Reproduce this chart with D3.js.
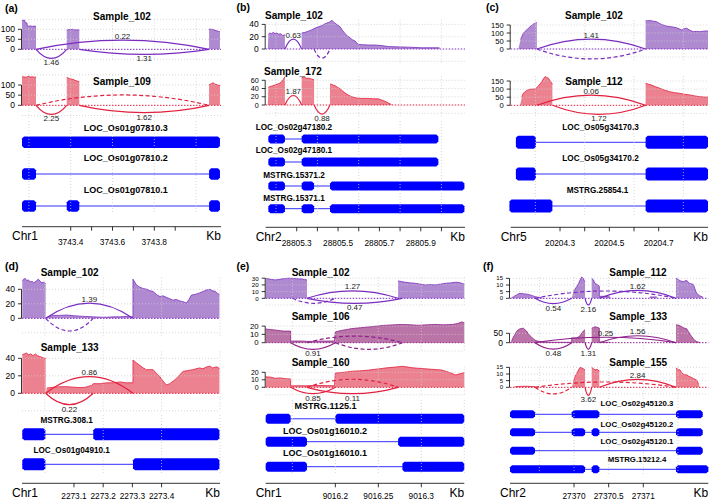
<!DOCTYPE html>
<html><head><meta charset="utf-8">
<script src="https://cdn.jsdelivr.net/npm/d3@7"></script>
<style>body{margin:0;background:#fff}svg{display:block}text{font-family:"Liberation Sans",Arial,Helvetica,sans-serif}</style>
</head><body><svg id="chart" width="709" height="502"></svg>
<script>
// ================= DATA =================
const panelTags = ["(a)","(b)","(c)","(d)","(e)","(f)"];
const chromosomes = ["Chr1","Chr2","Chr5","Chr1","Chr1","Chr2"];
const regions = [[3743.167,3744.119],[28805.15,28806.114],[20204.1,20204.9],[2272.922,2273.6],[9016.119,9016.35],[27369.076,27371.938]];
const xTicks_a = [3743.4,3743.5,3743.6,3743.7,3743.8,3743.9];
const xLabels_a = ["3743.4","","3743.6","","3743.8",""];
const xTicks_b = [28805.3,28805.4,28805.5,28805.6,28805.7,28805.8,28805.9,28806.0];
const xLabels_b = ["28805.3","","28805.5","","28805.7","","28805.9",""];
const xTicks_c = [20204.3,20204.4,20204.5,20204.6,20204.7];
const xLabels_c = ["20204.3","","20204.5","","20204.7"];
const xTicks_d = [2273.1,2273.2,2273.3,2273.4];
const xLabels_d = ["2273.1","2273.2","2273.3","2273.4"];
const xTicks_e = [9016.2,9016.25,9016.3];
const xLabels_e = ["9016.2","9016.25","9016.3"];
const xTicks_f = [27370,27370.5,27371];
const xLabels_f = ["27370","27370.5","27371"];
const xGrid_a = [3743.2,3743.4,3743.6,3743.8,3744.0];
const xGrid_b = [28805.2,28805.4,28805.6,28805.8,28806.0];
const xGrid_c = [20204.2,20204.4,20204.6,20204.8];
const xGrid_d = [2273.0,2273.2,2273.4,2273.6];
const xGrid_e = [9016.15,9016.2,9016.25,9016.3,9016.35];
const xGrid_f = [27369.5,27370,27370.5,27371,27371.5];

const samples_a = ["Sample_102","Sample_109"];
const samples_b = ["Sample_102","Sample_172"];
const samples_c = ["Sample_102","Sample_112"];
const samples_d = ["Sample_102","Sample_133"];
const samples_e = ["Sample_102","Sample_106","Sample_160"];
const samples_f = ["Sample_112","Sample_133","Sample_155"];

const yt_a_102 = [0,50,100], yt_a_109 = [0,50,100];
const yt_b_102 = [0,20,40], yt_b_172 = [0,20,40,60];
const yt_c_102 = [0,50,100,150], yt_c_112 = [0,50,100,150];
const yt_d_102 = [0,20,40], yt_d_133 = [0,20,40];
const yt_e_102 = [0,10,20,30], yt_e_106 = [0,10,20], yt_e_160 = [0,10,20];
const yt_f_112 = [0,5,10,15], yt_f_133 = [0,50], yt_f_155 = [0,5,10,15];

// coverage: [position kb, read depth]
const cov_a_102 = [[3743.167,146],[3743.172,144],[3743.177,146],[3743.180,145],[3743.181,134],[3743.186,133],[3743.191,131],[3743.192,117],[3743.200,116],[3743.208,117],[3743.216,114],[3743.224,116],[3743.234,115],[3743.234,0],[3743.381,0],[3743.381,97],[3743.390,99],[3743.400,98],[3743.410,100],[3743.420,97],[3743.430,98],[3743.441,96],[3743.441,0],[3744.062,0],[3744.062,100],[3744.070,101],[3744.080,99],[3744.090,95],[3744.100,92],[3744.108,89],[3744.114,88],[3744.114,0]];
const cov_a_109 = [[3743.167,139],[3743.175,141],[3743.183,138],[3743.191,140],[3743.200,142],[3743.208,139],[3743.217,141],[3743.225,138],[3743.234,140],[3743.234,0],[3743.381,0],[3743.381,136],[3743.388,135],[3743.396,131],[3743.405,129],[3743.415,126],[3743.425,121],[3743.433,119],[3743.441,116],[3743.441,0],[3744.062,0],[3744.062,101],[3744.072,106],[3744.081,111],[3744.090,104],[3744.100,101],[3744.114,97],[3744.114,0]];
const cov_b_102 = [[28805.150,0],[28805.160,0],[28805.163,24],[28805.170,26],[28805.178,25],[28805.186,27],[28805.195,25],[28805.204,26],[28805.213,24],[28805.222,25],[28805.232,22],[28805.243,23],[28805.243,0],[28805.324,0],[28805.324,26],[28805.340,27],[28805.356,29],[28805.372,31],[28805.389,34],[28805.405,36],[28805.421,38],[28805.437,41],[28805.453,43],[28805.461,44],[28805.469,47],[28805.477,44],[28805.485,42],[28805.497,39],[28805.510,36],[28805.522,30],[28805.534,25],[28805.546,21],[28805.558,18],[28805.570,15],[28805.582,13],[28805.590,10],[28805.598,7.5],[28805.620,7],[28805.646,6.5],[28805.680,6.5],[28805.711,5.5],[28805.743,4],[28805.780,3.5],[28805.840,3],[28805.905,2],[28805.960,2],[28805.990,2],[28805.993,0],[28806.114,0]];
const cov_b_172 = [[28805.150,0],[28805.160,0],[28805.163,43],[28805.172,45],[28805.181,46],[28805.190,48],[28805.199,49],[28805.208,51],[28805.217,53],[28805.226,56],[28805.235,62],[28805.243,69],[28805.243,0],[28805.324,0],[28805.324,67],[28805.336,67],[28805.348,65],[28805.360,65],[28805.372,63],[28805.384,61],[28805.384,0],[28805.461,0],[28805.461,51],[28805.470,50],[28805.478,48],[28805.485,47],[28805.497,43],[28805.510,39],[28805.522,34],[28805.534,29],[28805.550,24],[28805.566,20],[28805.590,17],[28805.614,16],[28805.646,16],[28805.670,15],[28805.695,15],[28805.711,12],[28805.727,9],[28805.743,5],[28805.755,2],[28805.767,0],[28806.114,0]];
const cov_c_102 = [[20204.100,0],[20204.131,0],[20204.140,60],[20204.151,98],[20204.158,110],[20204.165,119],[20204.172,130],[20204.179,140],[20204.186,148],[20204.192,156],[20204.198,160],[20204.203,164],[20204.206,166],[20204.206,0],[20204.647,0],[20204.647,177],[20204.655,176],[20204.664,178],[20204.678,174],[20204.691,171],[20204.705,158],[20204.718,150],[20204.732,143],[20204.745,140],[20204.758,137],[20204.772,133],[20204.783,126],[20204.793,119],[20204.803,127],[20204.813,130],[20204.826,118],[20204.840,108],[20204.853,110],[20204.867,108],[20204.880,111],[20204.894,113],[20204.900,112]];
const cov_c_112 = [[20204.100,0],[20204.138,0],[20204.145,50],[20204.151,74],[20204.165,92],[20204.179,99],[20204.190,100],[20204.199,101],[20204.206,110],[20204.212,119],[20204.219,132],[20204.226,146],[20204.233,165],[20204.239,177],[20204.246,172],[20204.253,167],[20204.260,150],[20204.267,136],[20204.269,130],[20204.269,0],[20204.647,0],[20204.647,136],[20204.659,130],[20204.671,125],[20204.688,114],[20204.705,105],[20204.725,93],[20204.745,84],[20204.765,78],[20204.785,74],[20204.805,68],[20204.826,64],[20204.846,58],[20204.867,53],[20204.885,51],[20204.900,50]];
const cov_d_102 = [[2272.923,52],[2272.928,54],[2272.933,55],[2272.938,52],[2272.944,53],[2272.950,50],[2272.956,51],[2272.962,49],[2272.967,50],[2272.972,52],[2272.978,54],[2272.984,51],[2272.990,49],[2272.996,50],[2273.001,48],[2273.003,48],[2273.003,0],[2273.010,2],[2273.029,4],[2273.050,4],[2273.075,4.5],[2273.100,3.5],[2273.120,3],[2273.140,2.5],[2273.166,2],[2273.190,1.5],[2273.212,1.5],[2273.235,2],[2273.257,2],[2273.280,2.5],[2273.297,2],[2273.302,2],[2273.302,54],[2273.308,50],[2273.314,46],[2273.325,43],[2273.337,41],[2273.350,40],[2273.360,38],[2273.371,37],[2273.382,33],[2273.394,30],[2273.405,31],[2273.416,29],[2273.428,27],[2273.439,25],[2273.450,26],[2273.462,24],[2273.473,23],[2273.485,21],[2273.494,26],[2273.502,32],[2273.515,33],[2273.530,35],[2273.542,37],[2273.553,39],[2273.565,40],[2273.575,38],[2273.585,37],[2273.592,34],[2273.598,33]];
const cov_d_133 = [[2272.923,44],[2272.930,45],[2272.937,46],[2272.945,44],[2272.952,45],[2272.960,43],[2272.968,45],[2272.975,43],[2272.983,42],[2272.991,41],[2273.000,40],[2273.003,40],[2273.003,0],[2273.007,6],[2273.030,7],[2273.050,7.5],[2273.075,7.6],[2273.100,7],[2273.120,6.5],[2273.140,7],[2273.160,9],[2273.166,11],[2273.190,11],[2273.212,12],[2273.235,12],[2273.257,13],[2273.280,12],[2273.302,12],[2273.302,38],[2273.313,35],[2273.325,32],[2273.337,29],[2273.348,27],[2273.360,27],[2273.371,27],[2273.382,23],[2273.394,19],[2273.405,14],[2273.416,9.5],[2273.428,11],[2273.440,14],[2273.451,17],[2273.462,21],[2273.473,25],[2273.490,26],[2273.507,27],[2273.518,28],[2273.530,29],[2273.542,28],[2273.553,30],[2273.565,31],[2273.575,29],[2273.585,30],[2273.592,30],[2273.598,28]];
const cov_e_102 = [[9016.119,30],[9016.122,29],[9016.126,28],[9016.130,27.5],[9016.134,28],[9016.138,29],[9016.142,29.5],[9016.146,30],[9016.150,29.5],[9016.153,29.5],[9016.157,29],[9016.161,29],[9016.164,28],[9016.167,27.5],[9016.167,0],[9016.273,0],[9016.273,26],[9016.277,25],[9016.281,24],[9016.287,23],[9016.293,22.4],[9016.299,21],[9016.305,20],[9016.310,20.5],[9016.316,20],[9016.322,21],[9016.328,22.4],[9016.334,23],[9016.340,24],[9016.344,23.5],[9016.347,22.4],[9016.350,21]];
const cov_e_106 = [[9016.119,16.5],[9016.123,16],[9016.128,15.5],[9016.132,15],[9016.136,14.5],[9016.140,14],[9016.144,14],[9016.148,14],[9016.148,2],[9016.160,2],[9016.170,1.5],[9016.185,2],[9016.199,2],[9016.200,13],[9016.204,14],[9016.208,15],[9016.214,16],[9016.219,17],[9016.229,18],[9016.239,19],[9016.248,20],[9016.258,21],[9016.268,21.5],[9016.278,22],[9016.288,21.5],[9016.297,21],[9016.306,21.5],[9016.316,22],[9016.326,21.5],[9016.336,22],[9016.342,23],[9016.347,25],[9016.350,24]];
const cov_e_160 = [[9016.119,14],[9016.125,13.5],[9016.130,12],[9016.136,12.5],[9016.142,11.5],[9016.148,11],[9016.148,2],[9016.165,2],[9016.180,2.5],[9016.199,2],[9016.200,19],[9016.210,20],[9016.220,21.5],[9016.230,22],[9016.239,23],[9016.250,24.5],[9016.260,26],[9016.270,27],[9016.278,28],[9016.290,26],[9016.301,25],[9016.312,24],[9016.324,23],[9016.332,20],[9016.340,16.5],[9016.345,18],[9016.350,19.5]];
const cov_f_112 = [[27369.076,0],[27369.100,0.5],[27369.124,1],[27369.150,2],[27369.173,2.5],[27369.200,3.5],[27369.221,3.75],[27369.260,3.5],[27369.293,3.2],[27369.330,3],[27369.365,2.5],[27369.400,2],[27369.437,1.25],[27369.480,0.8],[27369.534,0.5],[27369.560,0],[27369.967,0],[27369.990,5],[27370.015,7],[27370.039,8.75],[27370.065,11],[27370.087,13.75],[27370.111,16],[27370.134,15],[27370.150,13],[27370.159,12.5],[27370.159,0],[27370.255,0],[27370.255,15],[27370.278,14],[27370.303,11],[27370.330,10.5],[27370.351,10],[27370.365,9],[27370.365,1.5],[27370.450,1.5],[27370.519,1],[27370.540,0],[27371.080,0],[27371.097,1],[27371.193,1],[27371.210,0],[27371.472,0],[27371.472,15],[27371.505,14],[27371.540,13],[27371.577,12.5],[27371.626,13.5],[27371.650,12],[27371.674,11],[27371.722,10.5],[27371.745,7],[27371.771,3.75],[27371.810,2],[27371.857,1],[27371.870,0],[27371.938,0]];
const cov_f_133 = [[27369.076,0],[27369.100,10],[27369.124,29],[27369.150,45],[27369.173,61],[27369.200,70],[27369.221,74],[27369.245,76],[27369.268,77],[27369.290,70],[27369.317,61],[27369.340,48],[27369.365,37],[27369.390,28],[27369.413,21],[27369.437,13],[27369.480,8],[27369.534,5],[27369.600,3],[27369.750,2],[27369.900,2],[27369.967,2],[27369.967,26],[27370.000,25],[27370.039,26],[27370.065,31],[27370.087,37],[27370.110,50],[27370.135,62],[27370.159,69],[27370.159,0],[27370.255,0],[27370.255,77],[27370.280,81],[27370.303,85],[27370.330,82],[27370.351,80],[27370.365,78],[27370.365,3],[27370.450,2],[27370.519,2],[27370.600,0],[27371.472,0],[27371.472,96],[27371.500,93],[27371.530,90],[27371.555,85],[27371.577,80],[27371.600,77],[27371.626,74],[27371.650,60],[27371.674,45],[27371.700,32],[27371.722,21],[27371.745,12],[27371.771,5],[27371.818,1],[27371.850,0],[27371.938,0]];
const cov_f_155 = [[27369.076,0],[27369.150,0.5],[27369.300,0.8],[27369.437,0.5],[27369.500,0],[27369.967,0],[27369.990,4],[27370.015,8],[27370.039,10.5],[27370.065,13],[27370.087,15],[27370.110,14.5],[27370.134,14],[27370.159,13],[27370.159,0],[27370.255,0],[27370.255,15],[27370.280,14],[27370.303,13],[27370.330,13.5],[27370.351,13],[27370.365,12],[27370.365,0],[27371.472,0],[27371.472,14.5],[27371.500,13.5],[27371.530,13],[27371.555,11],[27371.577,10],[27371.600,9.5],[27371.626,9.3],[27371.650,8.5],[27371.674,8],[27371.700,7.2],[27371.722,6.7],[27371.745,6],[27371.771,5.5],[27371.800,2],[27371.818,0],[27371.938,0]];

// junctions: [start kb, end kb, arc extreme (depth units, + above / - below), label, dashed]
const jn_a_102 = [[3743.234,3743.381,-45,"1.46",0],[3743.441,3744.062,-25,"1.31",0],[3743.234,3744.062,46,"0.22",0]];
const jn_a_109 = [[3743.234,3743.381,-45,"2.25",0],[3743.441,3744.062,-36,"1.62",0],[3743.234,3744.062,51,"",1]];
const jn_b_102 = [[28805.243,28805.324,16,"0.63",0],[28805.384,28805.461,-15,"",1]];
const jn_b_172 = [[28805.243,28805.324,23,"1.87",0],[28805.384,28805.461,-22,"0.88",0]];
const jn_c_102 = [[20204.206,20204.647,62,"1.41",0],[20204.206,20204.647,-62,"",1]];
const jn_c_112 = [[20204.206,20204.647,63,"0.06",0],[20204.269,20204.647,-56,"1.72",0]];
const jn_d_102 = [[2273.003,2273.302,21,"1.39",0],[2273.003,2273.166,-17.5,"",1]];
const jn_d_133 = [[2273.003,2273.302,19,"0.86",0],[2273.003,2273.166,-13,"0.22",0]];
const jn_e_102 = [[9016.167,9016.273,11,"1.27",0],[9016.167,9016.278,-7.5,"0.47",0],[9016.150,9016.200,-7.5,"",1]];
const jn_e_106 = [[9016.148,9016.200,-8,"0.91",0],[9016.167,9016.278,8,"",1],[9016.200,9016.278,-8,"",1]];
const jn_e_160 = [[9016.148,9016.200,-8.5,"0.85",0],[9016.167,9016.273,-8.5,"0.11",0],[9016.167,9016.273,10.7,"",1]];
const jn_f_112 = [[27369.437,27369.967,-4,"0.54",0],[27370.159,27370.255,-5,"2.16",0],[27370.365,27371.472,6,"1.62",0],[27369.437,27371.472,5.5,"",1]];
const jn_f_133 = [[27369.437,27369.967,-34,"0.48",0],[27370.159,27370.255,-35,"1.31",0],[27369.437,27371.472,29,"0.25",0],[27370.365,27371.472,37,"1.56",0]];
const jn_f_155 = [[27369.437,27369.967,-5,"",1],[27370.159,27370.255,-6,"3.62",0],[27370.365,27371.472,6,"2.84",0],[27369.437,27371.472,4,"",1]];

// transcripts: [name, exons [[start,end],...]]
const tx_a = [["LOC_Os01g07810.3",[[3743.167,3744.114]]],["LOC_Os01g07810.2",[[3743.167,3743.234],[3744.062,3744.114]]],["LOC_Os01g07810.1",[[3743.167,3743.234],[3743.381,3743.441],[3744.062,3744.114]]]];
const tx_b = [["LOC_Os02g47180.2",[[28805.163,28805.243],[28805.324,28805.985]]],["LOC_Os02g47180.1",[[28805.163,28805.243],[28805.324,28805.985]]],["MSTRG.15371.2",[[28805.163,28805.243],[28805.324,28805.384],[28805.461,28806.111]]],["MSTRG.15371.1",[[28805.163,28805.243],[28805.324,28805.384],[28805.461,28806.111]]]];
const tx_c = [["LOC_Os05g34170.3",[[20204.121,20204.202],[20204.647,20204.9]]],["LOC_Os05g34170.2",[[20204.121,20204.202],[20204.647,20204.9]]],["MSTRG.25854.1",[[20204.095,20204.269],[20204.647,20204.9]]]];
const tx_d = [["MSTRG.308.1",[[2272.923,2273.002],[2273.166,2273.598]]],["LOC_Os01g04910.1",[[2272.923,2273.002],[2273.302,2273.598]]]];
const tx_e = [["MSTRG.1125.1",[[9016.119,9016.148],[9016.2,9016.35]]],["LOC_Os01g16010.2",[[9016.119,9016.167],[9016.273,9016.35]]],["LOC_Os01g16010.1",[[9016.119,9016.167],[9016.278,9016.35]]]];
const tx_f = [["LOC_Os02g45120.3",[[27369.076,27369.437],[27369.967,27370.365],[27371.472,27371.857]]],["LOC_Os02g45120.2",[[27369.076,27369.437],[27369.967,27370.159],[27370.255,27370.365],[27371.472,27371.857]]],["LOC_Os02g45120.1",[[27369.076,27369.437],[27371.472,27371.857]]],["MSTRG.15212.4",[[27369.076,27370.159],[27370.255,27370.365],[27371.472,27371.938]]]];

// ================= STYLE / LAYOUT =================
const pal = {
  purple:{fill:"#a77dcc", stroke:"#7a2cc0"},
  magenta:{fill:"#b3659f", stroke:"#8f1f8b"},
  red:{fill:"#ea7484", stroke:"#e2203e"}
};
const panels = [
 {tag:[5,8], px:[22,221], axisY:226.7, labDy:15.5, ticks:xTicks_a, labels:xLabels_a, grid:xGrid_a,
  tracks:[
   {name:samples_a[0], cov:cov_a_102, jn:jn_a_102, yt:yt_a_102, dom:[-60,150], base:49.3, ppu:0.2, color:"purple", title:[122,16,"middle"]},
   {name:samples_a[1], cov:cov_a_109, jn:jn_a_109, yt:yt_a_109, dom:[-60,150], base:105.3, ppu:0.203, color:"red", title:[122,81,"middle"]}],
  tx:tx_a, txL:{lx:[125.8,125.8,125.8], ly:[127.8,158.3,190], by:[142.3,174,206], h:11.5, anchor:"middle", fs:9, g0:121, g1:214}},
 {tag:[236.5,7], px:[265.7,465], axisY:227.3, labDy:15.5, ticks:xTicks_b, labels:xLabels_b, grid:xGrid_b,
  tracks:[
   {name:samples_b[0], cov:cov_b_102, jn:jn_b_102, yt:yt_b_102, dom:[-25,48], base:49, ppu:0.615, color:"purple", title:[265,15.7,"start"]},
   {name:samples_b[1], cov:cov_b_172, jn:jn_b_172, yt:yt_b_172, dom:[-30,70], base:105, ppu:0.412, color:"red", title:[264,71.7,"start"], tfs:7.2}],
  tx:tx_b, txL:{lx:[255.7,255.7,263.3,263.3], ly:[127.8,150.7,175,198.7], by:[139,162,186,208.7], h:9, anchor:"start", fs:8.2, g0:121, g1:215}},
 {tag:[486,7], px:[510.7,708], axisY:227.3, labDy:15.5, ticks:xTicks_c, labels:xLabels_c, grid:xGrid_c,
  tracks:[
   {name:samples_c[0], cov:cov_c_102, jn:jn_c_102, yt:yt_c_102, dom:[-70,180], base:49, ppu:0.16, color:"purple", title:[594,15.7,"middle"], tfs:7.6},
   {name:samples_c[1], cov:cov_c_112, jn:jn_c_112, yt:yt_c_112, dom:[-70,180], base:105.3, ppu:0.162, color:"red", title:[594,81,"middle"], tfs:7.6}],
  tx:tx_c, txL:{lx:[600.5,600.5,597.5], ly:[127.8,158.3,190.7], by:[142.3,174,206], h:13, anchor:"middle", fs:8.2, g0:121, g1:215}},
 {tag:[5,266], px:[22,220], axisY:483.3, labDy:13, ticks:xTicks_d, labels:xLabels_d, grid:xGrid_d,
  tracks:[
   {name:samples_d[0], cov:cov_d_102, jn:jn_d_102, yt:yt_d_102, dom:[-25,56], base:318.3, ppu:0.725, color:"purple", title:[40.7,272.7,"start"]},
   {name:samples_d[1], cov:cov_d_133, jn:jn_d_133, yt:yt_d_133, dom:[-20,48], base:393.3, ppu:0.875, color:"red", title:[40.7,347.7,"start"]}],
  tx:tx_d, txL:{lx:[66.7,71.7], ly:[420.7,450], by:[434.3,464.3], h:12, anchor:"middle", fs:8.2, g0:415, g1:474}},
 {tag:[236.5,266], px:[265.7,464.3], axisY:483.3, labDy:13, ticks:xTicks_e, labels:xLabels_e, grid:xGrid_e,
  tracks:[
   {name:samples_e[0], cov:cov_e_102, jn:jn_e_102, yt:yt_e_102, dom:[-10,32], base:298.3, ppu:0.67, color:"purple", title:[291.7,272.7,"start"], tfs:6.2},
   {name:samples_e[1], cov:cov_e_106, jn:jn_e_106, yt:yt_e_106, dom:[-10,25], base:342.7, ppu:0.83, color:"magenta", title:[291.7,316.7,"start"], tfs:7.8},
   {name:samples_e[2], cov:cov_e_160, jn:jn_e_160, yt:yt_e_160, dom:[-12,28], base:387.3, ppu:0.75, color:"red", title:[291.7,362.7,"start"], tfs:7}],
  tx:tx_e, txL:{lx:[325.5,325,325], ly:[406.3,430.7,453.3], by:[418.8,441.7,466.7], h:10, anchor:"middle", fs:9, g0:400, g1:474}},
 {tag:[483,266], px:[510,708.3], axisY:483.3, labDy:13, ticks:xTicks_f, labels:xLabels_f, grid:xGrid_f,
  tracks:[
   {name:samples_f[0], cov:cov_f_112, jn:jn_f_112, yt:yt_f_112, dom:[-6,16], base:298.3, ppu:1.33, color:"purple", title:[609.3,272.7,"start"], tfs:6},
   {name:samples_f[1], cov:cov_f_133, jn:jn_f_133, yt:yt_f_133, dom:[-40,100], base:342.7, ppu:0.188, color:"magenta", title:[609.3,316.7,"start"]},
   {name:samples_f[2], cov:cov_f_155, jn:jn_f_155, yt:yt_f_155, dom:[-7,16], base:387.3, ppu:1.33, color:"red", title:[609.3,362.7,"start"], tfs:6}],
  tx:tx_f, txL:{lx:[637,637,637,637], ly:[403.3,424,441.7,459.3], by:[414.3,432.3,450.7,469.3], h:8, anchor:"middle", fs:7.8, g0:398, g1:474}}
];

// ================= DRAW =================
const svg = d3.select("#chart");
const GRID = "#cdcdcd";

function vline(g, x, y0, y1){
  g.append("line").attr("x1",x).attr("x2",x).attr("y1",y0).attr("y2",y1)
   .attr("stroke",GRID).attr("stroke-width",0.8).attr("stroke-dasharray","1,2");
}

function drawTrack(g, x, P, T){
  const y = d3.scaleLinear().domain([0,1]).range([T.base, T.base - T.ppu]);
  const col = pal[T.color];
  const step = T.yt[1] - T.yt[0];
  const y0 = y(0);
  g.append("path").datum(T.cov)
    .attr("d", d3.area().x(d=>x(d[0])).y0(y0).y1(d=>y(d[1])))
    .attr("fill", col.fill).attr("fill-opacity",0.9);
  g.append("path").datum(T.cov)
    .attr("d", d3.line().defined(d=>d[1]>0).x(d=>x(d[0])).y(d=>y(d[1])))
    .attr("fill","none").attr("stroke",col.stroke).attr("stroke-width",0.8);
  const hv = d3.range(Math.ceil(T.dom[0]/step)*step, T.dom[1]+1e-9, step);
  hv.forEach(v=>{ if(v!==0) g.append("line").attr("x1",P.px[0]).attr("x2",P.px[1]).attr("y1",y(v)).attr("y2",y(v))
      .attr("stroke",GRID).attr("stroke-width",0.8).attr("stroke-dasharray","1,2"); });
  P.grid.forEach(k=>vline(g, x(k), y(T.dom[1]), y(T.dom[0])));
  g.append("line").attr("x1",P.px[0]).attr("x2",P.px[1]).attr("y1",y0).attr("y2",y0)
    .attr("stroke",col.stroke).attr("stroke-width",1).attr("stroke-dasharray","1.5,1.5");
  T.jn.forEach(([s,e,h,lab,dash])=>{
    const x1 = x(s), x2 = x(e), yh = y(h), cy = 2*yh - y0, xm = (x1+x2)/2;
    const p = g.append("path").attr("d",`M${x1},${y0}Q${xm},${cy} ${x2},${y0}`)
      .attr("fill","none").attr("stroke",col.stroke).attr("stroke-width",1.2);
    if(dash) p.attr("stroke-dasharray","4,2.5");
    if(lab) g.append("text").attr("x",xm).attr("y", h>0 ? yh-4 : yh+4.5)
      .attr("text-anchor","middle").attr("dominant-baseline","central")
      .attr("font-size",8).attr("fill","#222").text(lab);
  });
  const ax = P.px[0] - 0.5;
  const tfs = T.tfs || 8.5;
  g.append("line").attr("x1",ax).attr("x2",ax).attr("y1",y(T.yt[0])).attr("y2",y(T.yt[T.yt.length-1]))
    .attr("stroke","#000").attr("stroke-width",0.8);
  T.yt.forEach(v=>{
    g.append("line").attr("x1",ax-3.5).attr("x2",ax).attr("y1",y(v)).attr("y2",y(v)).attr("stroke","#000").attr("stroke-width",0.8);
    g.append("text").attr("x",ax-6.5).attr("y",y(v)).attr("text-anchor","end").attr("dominant-baseline","central")
      .attr("font-size",tfs).attr("fill","#000").text(v);
  });
  g.append("text").attr("x",T.title[0]).attr("y",T.title[1]).attr("text-anchor",T.title[2])
    .attr("dominant-baseline","central").attr("font-size",10).attr("font-weight","bold").text(T.name);
}

function exonPath(x0, x1, cy, h){
  const c = Math.min(2, (x1-x0)/3), t = cy - h/2, b = cy + h/2;
  return `M${x0+c},${t}L${x1-c},${t}L${x1},${t+c}L${x1},${b-c}L${x1-c},${b}L${x0+c},${b}L${x0},${b-c}L${x0},${t+c}Z`;
}

function drawTranscripts(g, x, P){
  const L = P.txL;
  P.tx.forEach(([name, exons], i)=>{
    g.append("text").attr("x",L.lx[i]).attr("y",L.ly[i]).attr("text-anchor",L.anchor)
      .attr("dominant-baseline","central").attr("font-size",L.fs).attr("font-weight","bold").text(name);
    const cy = L.by[i];
    g.append("line").attr("x1",x(exons[0][0])).attr("x2",x(exons[exons.length-1][1])).attr("y1",cy).attr("y2",cy)
      .attr("stroke","#3030ff").attr("stroke-width",1);
    exons.forEach(([s,e])=>{
      g.append("path").attr("d",exonPath(x(s),x(e),cy,L.h)).attr("fill","#0000ff");
    });
  });
  P.grid.forEach(k=>vline(g, x(k), L.g0, L.g1));
}

function drawAxis(g, x, P, i){
  const ay = P.axisY;
  g.append("line").attr("x1",P.px[0]).attr("x2",P.px[1]).attr("y1",ay).attr("y2",ay).attr("stroke","#000").attr("stroke-width",0.8);
  P.ticks.forEach((t,j)=>{
    g.append("line").attr("x1",x(t)).attr("x2",x(t)).attr("y1",ay).attr("y2",ay+4).attr("stroke","#000").attr("stroke-width",0.8);
    if(P.labels[j]) g.append("text").attr("x",x(t)).attr("y",ay+P.labDy).attr("text-anchor","middle")
      .attr("dominant-baseline","central").attr("font-size",8.3).text(P.labels[j]);
  });
  g.append("text").attr("x",P.px[0]+3).attr("y",ay+9.4).attr("text-anchor","middle").attr("dominant-baseline","central")
    .attr("font-size",12).text(chromosomes[i]);
  g.append("text").attr("x",P.px[1]).attr("y",ay+9.4).attr("text-anchor","end").attr("dominant-baseline","central")
    .attr("font-size",12).text("Kb");
}

panels.forEach((P,i)=>{
  const g = svg.append("g");
  const x = d3.scaleLinear().domain(regions[i]).range(P.px);
  g.append("text").attr("x",P.tag[0]).attr("y",P.tag[1]).attr("dominant-baseline","central")
    .attr("font-size",10.5).attr("font-weight","bold").text(panelTags[i]);
  P.tracks.forEach(T=>drawTrack(g, x, P, T));
  drawTranscripts(g, x, P);
  drawAxis(g, x, P, i);
});
</script></body></html>
